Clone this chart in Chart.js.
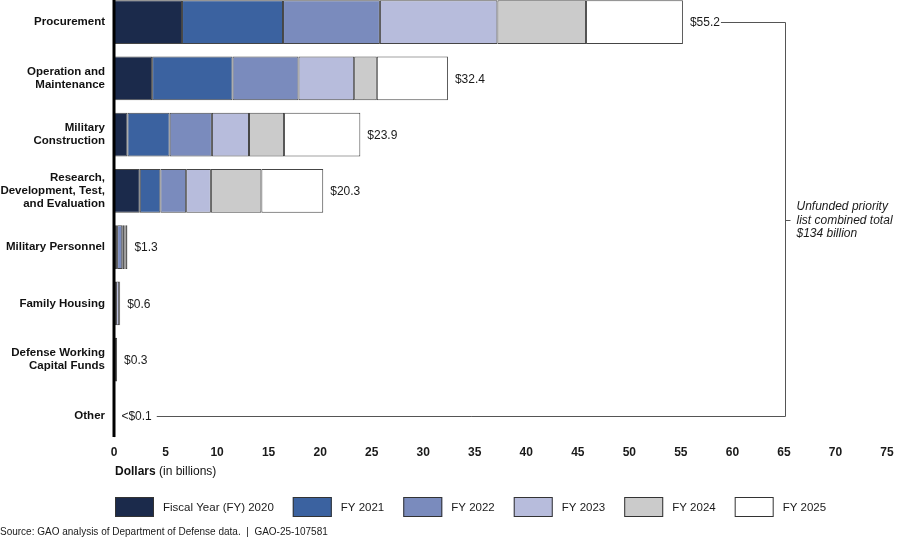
<!DOCTYPE html>
<html>
<head>
<meta charset="utf-8">
<script src="https://cdn.jsdelivr.net/npm/chart.js@4.4.1/dist/chart.umd.min.js"></script>
<style>
  html, body { margin: 0; padding: 0; background: #fff; overflow: hidden; }
  #wrap { position: absolute; left: 0; top: -6px; width: 900px; height: 545px; }
</style>
</head>
<body>
<div id="wrap"><canvas id="c" width="900" height="545"></canvas></div>
<script>
// ---- Data (billions of dollars) ----
const categories = [
  "Procurement",
  ["Operation and", "Maintenance"],
  ["Military", "Construction"],
  ["Research,", "Development, Test,", "and Evaluation"],
  "Military Personnel",
  "Family Housing",
  ["Defense Working", "Capital Funds"],
  "Other"
];
const seriesLabels = ["Fiscal Year (FY) 2020", "FY 2021", "FY 2022", "FY 2023", "FY 2024", "FY 2025"];
const fy2020 = [6.6, 3.7, 1.3, 2.5, 0.2, 0, 0, 0];
const fy2021 = [9.8, 7.8, 4.1, 2.0, 0.1, 0, 0, 0];
const fy2022 = [9.4, 6.4, 4.1, 2.5, 0.5, 0.2, 0, 0];
const fy2023 = [11.4, 5.4, 3.6, 2.4, 0.2, 0.3, 0, 0];
const fy2024 = [8.6, 2.2, 3.4, 4.9, 0.1, 0, 0.1, 0];
const fy2025 = [9.4, 6.9, 7.4, 6.0, 0.2, 0.1, 0.2, 0.04];
const totalLabels = ["$55.2", "$32.4", "$23.9", "$20.3", "$1.3", "$0.6", "$0.3", "<$0.1"];
const xTickMin = 0, xTickMax = 75, xTickStep = 5;
const bracketLines = ["Unfunded priority", "list combined total", "$134 billion"];
const bracketValue = 65.1;
const axisTitleBold = "Dollars";
const axisTitleRest = " (in billions)";
const sourceText = "Source: GAO analysis of Department of Defense data.  |  GAO-25-107581";

// ---- Styles ----
const colors = ["#1b2a4b", "#3b62a0", "#7a8bbd", "#b7bcdc", "#cbcbcb", "#ffffff"];
const borderCol = "#454545";
const SANS = "'Liberation Sans', Arial, sans-serif";
const NARROW = "'Liberation Sans Narrow', 'Arial Narrow', 'Liberation Sans', sans-serif";
const DY = 6; // canvas offset vs page

const series = [fy2020, fy2021, fy2022, fy2023, fy2024, fy2025];
const datasets = series.map((arr, i) => ({
  label: seriesLabels[i],
  data: arr.map(v => v === 0 ? null : v),
  backgroundColor: colors[i],
  borderColor: borderCol,
  borderWidth: 1,
  borderSkipped: false,
  barPercentage: 0.78,
  categoryPercentage: 1.0
}));

const overlay = {
  id: 'overlay',
  afterDatasetsDraw(chart) {
    const ctx = chart.ctx;
    const xs = chart.scales.x, ys = chart.scales.y;
    const ca = chart.chartArea;
    ctx.save();
    // y axis thick line
    ctx.fillStyle = "#000";
    ctx.fillRect(ca.left - 1.5, 0, 3, 437 + DY);

    // total labels
    ctx.font = "12px " + SANS;
    ctx.fillStyle = "#1a1a1a";
    ctx.textBaseline = "middle";
    ctx.textAlign = "left";
    const labelEnds = [];
    categories.forEach((c, i) => {
      let sum = 0;
      series.forEach(s => sum += s[i]);
      const x = xs.getPixelForValue(sum) + 7;
      const y = ys.getPixelForValue(i);
      ctx.fillText(totalLabels[i], x, y + 1);
      labelEnds.push(x + ctx.measureText(totalLabels[i]).width);
    });

    // bracket
    const bx = Math.round(xs.getPixelForValue(bracketValue)) + 0.5;
    const yTop = Math.round(ys.getPixelForValue(0)) + 0.5;
    const yBot = Math.round(ys.getPixelForValue(categories.length - 1)) + 0.5;
    ctx.strokeStyle = "#555";
    ctx.lineWidth = 1;
    ctx.beginPath();
    ctx.moveTo(labelEnds[0] + 1, yTop);
    ctx.lineTo(bx, yTop);
    ctx.lineTo(bx, yBot);
    ctx.lineTo(labelEnds[categories.length - 1] + 5, yBot);
    const ym = Math.round((yTop + yBot) / 2) + 0.5;
    ctx.moveTo(bx, ym);
    ctx.lineTo(bx + 5, ym);
    ctx.stroke();

    ctx.font = "italic 12px " + SANS;
    ctx.fillStyle = "#1a1a1a";
    bracketLines.forEach((t, k) => {
      ctx.fillText(t, bx + 11, ym + (k - 1) * 13.5);
    });

    // x axis title
    ctx.font = "bold 12px " + NARROW;
    ctx.fillStyle = "#111";
    const tx = ca.left + 1;
    const ty = 472 + DY;
    ctx.fillText(axisTitleBold, tx, ty);
    const w1 = ctx.measureText(axisTitleBold).width;
    ctx.font = "12px " + NARROW;
    ctx.fillText(axisTitleRest, tx + w1, ty);

    // legend
    let lx = 115;
    const ly = 497 + DY;
    ctx.font = "11.5px " + SANS;
    seriesLabels.forEach((t, i) => {
      ctx.fillStyle = colors[i];
      ctx.fillRect(lx, ly, 39, 20);
      ctx.strokeStyle = "#333";
      ctx.lineWidth = 1;
      ctx.strokeRect(lx + 0.5, ly + 0.5, 38, 19);
      ctx.fillStyle = "#1a1a1a";
      ctx.fillText(t, lx + 48, ly + 10.5);
      lx += 48 + ctx.measureText(t).width + 19;
    });

    // source
    ctx.font = "10px " + NARROW;
    ctx.fillStyle = "#1a1a1a";
    ctx.fillText(sourceText, 0, 532 + DY);
    ctx.restore();
  }
};

new Chart(document.getElementById('c'), {
  type: 'bar',
  data: { labels: categories, datasets },
  options: {
    indexAxis: 'y',
    responsive: false,
    animation: false,
    events: [],
    layout: { padding: { left: 0, right: 13, top: 0, bottom: 0 } },
    plugins: { legend: { display: false }, tooltip: { enabled: false } },
    scales: {
      x: {
        type: 'linear',
        stacked: true,
        min: xTickMin, max: xTickMax,
        grid: { display: false, drawTicks: false },
        border: { display: false },
        ticks: {
          stepSize: xTickStep,
          padding: 1,
          color: "#1a1a1a",
          font: { family: NARROW, weight: 'bold', size: 12 },
          maxRotation: 0,
          autoSkip: false
        },
        afterFit(scale) { scale.height = 95; scale.paddingLeft = 0; scale.paddingRight = 0; }
      },
      y: {
        type: 'category',
        stacked: true,
        grid: { display: false, drawTicks: false },
        border: { display: false },
        ticks: {
          padding: 9,
          color: "#111",
          font: { family: SANS, weight: 'bold', size: 11.5, lineHeight: 1.13 },
          autoSkip: false
        },
        afterFit(scale) { scale.width = 114; scale.paddingTop = 0; scale.paddingBottom = 0; }
      }
    }
  },
  plugins: [overlay]
});
</script>
</body>
</html>
